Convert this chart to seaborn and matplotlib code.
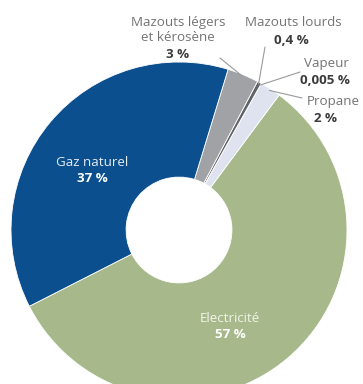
import numpy as np
import matplotlib
matplotlib.use("Agg")
import matplotlib.pyplot as plt
import seaborn as sns

categories = ["Electricité", "Propane", "Vapeur", "Mazouts lourds", "Mazouts légers\net kérosène", "Gaz naturel"]
values = [57, 2, 0.005, 0.4, 3, 37]
value_labels = ["57 %", "2 %", "0,005 %", "0,4 %", "3 %", "37 %"]
colors = ["#a7b98b", "#dfe3ef", "#c9ccd3", "#5f6268", "#a0a2a6", "#0b4f8f"]

sns.set_theme(style="white")
plt.rcParams["font.family"] = ["Open Sans", "DejaVu Sans"]

W, H = 363, 384
fig = plt.figure(figsize=(W / 100, H / 100), dpi=100)
cx, cy, R = 179, 230, 168
ax = fig.add_axes([(cx - R) / W, (H - cy - R) / H, 2 * R / W, 2 * R / H])

start = 207
wedges, _ = ax.pie(values, colors=colors, startangle=start, counterclock=True,
                   radius=1.0, wedgeprops=dict(width=0.685, edgecolor="white", linewidth=0.6),
                   normalize=True)
ax.set_xlim(-1, 1)
ax.set_ylim(-1, 1)
ax.axis("off")

def px2data(px, py):
    return (px - cx) / R, (cy - py) / R

fs = 9.6
name_col = "#747474"
val_col = "#3c3c3c"

# inside labels
for i, (px, py) in [(0, (230, 318)), (5, (92, 162))]:
    x, y = px2data(px, py)
    ax.text(x, y, categories[i], ha="center", va="center", color="#e6ecf2" if i == 5 else "#f2f4ec",
            fontsize=fs)
    x2, y2 = px2data(px, py + 16)
    ax.text(x2, y2, value_labels[i], ha="center", va="center", color="white",
            fontsize=fs, fontweight="bold")

# outside labels: (index, name anchor px, value center px, line end px, name ha)
outside = [
    (4, (178, 30), (178, 55), (220, 58), "center"),
    (3, (293, 22), (291, 41), (265, 47), "center"),
    (2, (326, 63), (325, 81), (300, 72), "center"),
    (1, (307, 101), (326, 119), (302, 98), "left"),
]
for i, npos, vpos, lpos, ha in outside:
    x, y = px2data(*npos)
    ax.text(x, y, categories[i], ha=ha, va="center", color=name_col, fontsize=fs,
            linespacing=1.2)
    x, y = px2data(*vpos)
    ax.text(x, y, value_labels[i], ha="center", va="center", color=val_col, fontsize=fs,
            fontweight="bold")
    w = wedges[i]
    mid = np.deg2rad((w.theta1 + w.theta2) / 2)
    lx, ly = px2data(*lpos)
    ax.plot([lx, np.cos(mid) * 0.99], [ly, np.sin(mid) * 0.99], color="#9a9a9a", lw=0.8,
            clip_on=False)

fig.savefig("out.png", dpi=100, facecolor="white")
